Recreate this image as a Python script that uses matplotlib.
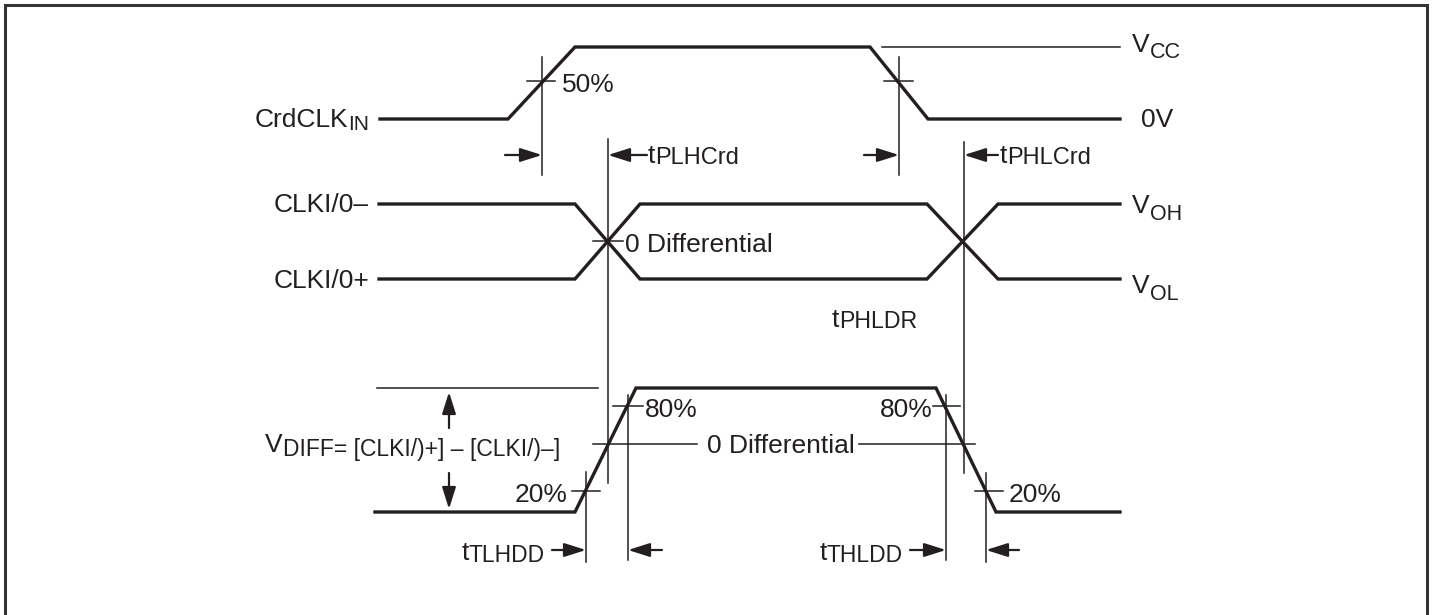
import matplotlib
matplotlib.use("Agg")
import matplotlib.pyplot as plt

plt.rcParams['font.family'] = ['Liberation Sans', 'DejaVu Sans']

INK = '#231f20'

# waveform break points (x, y in picture pixels)
crd_x = [380, 508, 575, 870, 928, 1120]
crd_y = [119, 119, 47, 47, 119, 119]
clk_minus_x = [379, 575, 640, 927, 998, 1120]
clk_minus_y = [204, 204, 279, 279, 204, 204]
clk_plus_x = [379, 575, 640, 927, 998, 1120]
clk_plus_y = [279, 279, 204, 204, 279, 279]
vdiff_x = [375, 575, 636, 936, 996, 1120]
vdiff_y = [512, 512, 388, 388, 512, 512]

# thin reference lines: vertical (x, y0, y1) and horizontal (y, x0, x1)
vlines = [(542, 57, 175), (899, 57, 175), (608, 139, 483), (964, 142, 473),
          (628, 395, 560), (586, 472, 562), (946, 395, 560), (986, 473, 562)]
hlines = [(47, 882, 1120), (81, 527, 555), (81, 884, 913), (241, 593, 623),
          (406, 613, 643), (491, 572, 600), (406, 933, 960), (491, 975, 1003),
          (388, 377, 598), (444, 593, 697), (444, 859, 975)]

# arrows (tail -> tip)
arrows = [((505, 155), (542, 155)), ((647, 155), (608, 155)),
          ((864, 155), (899, 155)), ((998, 155), (964, 155)),
          ((449, 428), (449, 392)), ((449, 473), (449, 509)),
          ((552, 550), (586, 550)), ((662, 550), (628, 550)),
          ((910, 550), (946, 550)), ((1019, 550), (986, 550))]

# labels: x, baseline y, main text, subscript, align, sub size, sub drop
labels = [
    (369, 127, 'CrdCLK', 'IN', 'right', 15, 3),
    (274, 212, 'CLKI/0\u2013', '', 'left', 14, 0),
    (274, 288, 'CLKI/0+', '', 'left', 14, 0),
    (1132, 52, 'V', 'CC', 'left', 15.5, 6),
    (1141, 127, '0V', '', 'left', 14, 0),
    (1132, 213, 'V', 'OH', 'left', 15.5, 7),
    (1132, 293, 'V', 'OL', 'left', 15.5, 7),
    (562, 92, '50%', '', 'left', 14, 0),
    (648, 163, 't', 'PLHCrd', 'left', 17, 1),
    (1000, 163, 't', 'PHLCrd', 'left', 17, 1),
    (625, 252, '0 Differential', '', 'left', 14, 0),
    (832, 327, 't', 'PHLDR', 'left', 16.7, 1),
    (265, 452, 'V', 'DIFF= [CLKI/)+] \u2013 [CLKI/)\u2013]', 'left', 16.5, 4),
    (645, 417, '80%', '', 'left', 14, 0),
    (933, 417, '80%', '', 'right', 14, 0),
    (707, 453, '0 Differential', '', 'left', 14, 0),
    (567, 502, '20%', '', 'right', 14, 0),
    (1009, 502, '20%', '', 'left', 14, 0),
    (545, 560, 't', 'TLHDD', 'right', 16.5, 2),
    (903, 560, 't', 'THLDD', 'right', 16.5, 2),
]

fig = plt.figure(figsize=(14.34, 6.15), dpi=100)
ax = fig.add_axes([0, 0, 1, 1])
ax.set_xlim(0, 1434)
ax.set_ylim(615, 0)
ax.axis('off')

# frame
ax.plot([4.5, 4.5, 1427, 1427], [620, 5, 5, 620], color='#333333', lw=2.2,
        solid_joinstyle='miter')

for xs, ys in [(crd_x, crd_y), (clk_minus_x, clk_minus_y),
               (clk_plus_x, clk_plus_y), (vdiff_x, vdiff_y)]:
    ax.plot(xs, ys, color=INK, lw=2.4, solid_joinstyle='miter')

for x, y0, y1 in vlines:
    ax.plot([x, x], [y0, y1], color=INK, lw=1.1)
for y, x0, x1 in hlines:
    ax.plot([x0, x1], [y, y], color=INK, lw=1.1)

for tail, tip in arrows:
    ax.annotate('', xy=tip, xytext=tail,
                arrowprops=dict(arrowstyle='-|>,head_length=0.6,head_width=0.19',
                                mutation_scale=22, lw=1.6, color=INK,
                                shrinkA=0, shrinkB=0))

renderer = fig.canvas.get_renderer()
MAIN = 19
for x, y, main, sub, ha, ssize, drop in labels:
    t1 = ax.text(x, y, main, fontsize=MAIN, color=INK, va='baseline', ha='left')
    w1 = t1.get_window_extent(renderer).width
    t2 = None
    w2 = 0
    if sub:
        t2 = ax.text(x + w1, y + drop, sub, fontsize=ssize, color=INK,
                     va='baseline', ha='left')
        w2 = t2.get_window_extent(renderer).width
    if ha == 'right':
        shift = w1 + w2
        t1.set_x(x - shift)
        if t2 is not None:
            t2.set_x(x - shift + w1)

fig.savefig('out.png', dpi=100)
